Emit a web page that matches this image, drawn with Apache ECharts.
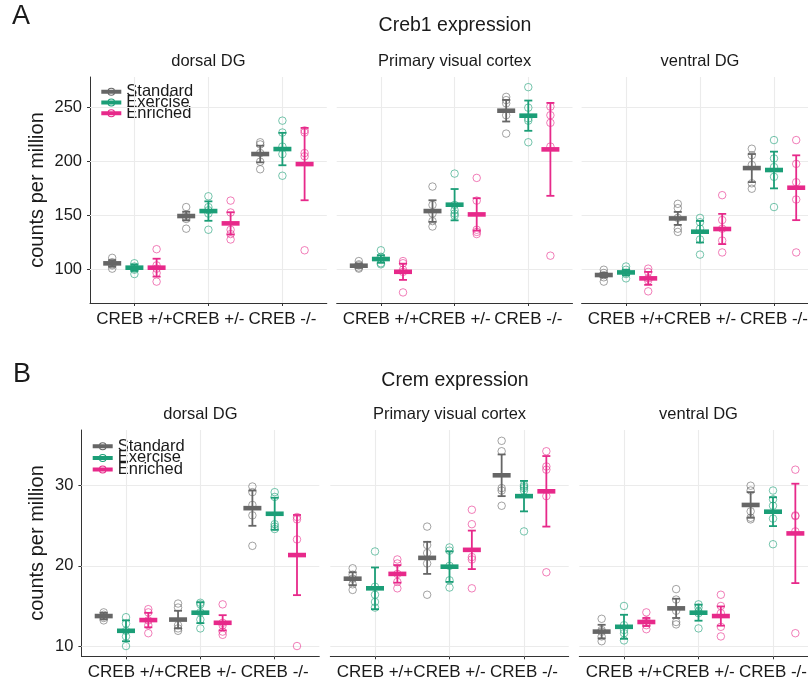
<!DOCTYPE html>
<html>
<head>
<meta charset="utf-8">
<script src="https://cdn.jsdelivr.net/npm/echarts@6/dist/echarts.min.js"></script>
<style>
  html, body { margin: 0; padding: 0; background: #ffffff; }
  #chart { width: 808px; height: 683px; }
</style>
</head>
<body>
<div id="chart"></div>
<script>
// ---- categories and labels ----
const genotypes = ['CREB +/+', 'CREB +/-', 'CREB -/-'];
const groups = ['Standard', 'Exercise', 'Enriched'];
const regions = ['dorsal DG', 'Primary visual cortex', 'ventral DG'];
const creb1Ticks = [100, 150, 200, 250];
const cremTicks = [10, 20, 30];

// ---- Creb1 expression (rows: Standard, Exercise, Enriched; columns: genotypes) ----
const creb1DorsalMean = [[105.9, 149.7, 207.1], [101.9, 154.3, 211.7], [101.9, 142.9, 197.8]];
const creb1DorsalErr  = [[3.0, 4.0, 7.7], [3.0, 9.0, 15.0], [8.3, 10.3, 33.5]];
const creb1DorsalPts  = [
  [[111, 107, 105, 104, 101], [158, 151, 149, 147, 138], [218, 216, 208, 200, 193]],
  [[106, 103, 101, 100, 96], [168, 158, 155, 152, 137], [238, 227, 214, 207, 187]],
  [[119, 104, 101, 97, 89], [164, 153, 137, 133, 128], [229, 227, 208, 205, 118]]
];

const creb1VisualMean = [[103.7, 154.3, 247.2], [109.9, 160.2, 242.6], [98.1, 151.2, 211.4]];
const creb1VisualErr  = [[2.0, 10.0, 10.0], [3.5, 14.5, 14.0], [7.5, 15.0, 43.0]];
const creb1VisualPts  = [
  [[108, 105, 104, 102, 101], [177, 160, 152, 145, 140], [260, 257, 254, 243, 226]],
  [[118, 112, 110, 106, 105], [189, 160, 155, 152, 150], [269, 250, 240, 238, 218]],
  [[108, 106, 100, 98, 79], [185, 164, 137, 135, 133], [251, 243, 236, 214, 113]]
];

const creb1VentralMean = [[95.1, 147.5, 194.1], [97.5, 135.2, 192.3], [92.0, 137.7, 175.9]];
const creb1VentralErr  = [[2.0, 6.0, 13.0], [2.5, 10.0, 17.0], [6.0, 14.0, 30.0]];
const creb1VentralPts  = [
  [[100, 97, 95, 93, 89], [161, 157, 148, 138, 135], [212, 206, 197, 180, 175]],
  [[103, 100, 97, 96, 92], [148, 144, 138, 128, 114], [220, 203, 195, 186, 158]],
  [[101, 98, 92, 90, 80], [169, 146, 138, 127, 116], [220, 198, 181, 165, 116]]
];

// ---- Crem expression ----
const cremDorsalMean = [[13.74, 13.3, 27.2], [11.9, 14.16, 26.5], [13.24, 12.9, 21.35]];
const cremDorsalErr  = [[0.4, 1.1, 2.2], [1.3, 1.3, 2.0], [0.9, 0.95, 5.0]];
const cremDorsalPts  = [
  [[14.2, 13.9, 13.7, 13.5, 13.2], [15.3, 14.8, 12.6, 12.2, 11.9], [29.9, 29.2, 27.6, 26.3, 22.5]],
  [[13.6, 12.8, 11.9, 11.2, 10.0], [15.4, 15.2, 14.2, 13.3, 12.2], [29.2, 28.6, 25.2, 24.9, 24.6]],
  [[14.6, 14.2, 13.2, 12.6, 11.6], [15.2, 12.9, 12.6, 11.8, 11.4], [26.1, 25.8, 23.3, 10.0]]
];

const cremVisualMean = [[18.4, 21.0, 31.3], [17.2, 19.9, 28.7], [19.0, 22.0, 29.3]];
const cremVisualErr  = [[0.8, 2.0, 2.6], [2.6, 1.9, 1.9], [1.1, 2.4, 4.4]];
const cremVisualPts  = [
  [[19.7, 18.9, 18.4, 17.7, 17.0], [24.9, 22.6, 21.6, 20.3, 16.4], [35.6, 34.3, 29.7, 29.4, 27.5]],
  [[21.8, 17.4, 16.4, 15.5, 14.8], [22.3, 21.9, 20.0, 18.2, 17.3], [30.1, 29.9, 29.7, 29.4, 24.3]],
  [[20.8, 20.3, 19.0, 18.0, 17.2], [27.0, 25.2, 21.1, 20.8, 17.2], [34.3, 32.4, 32.0, 28.7, 19.2]]
];

const cremVentralMean = [[11.8, 14.7, 27.6], [12.4, 14.16, 26.76], [13.0, 13.74, 24.05]];
const cremVentralErr  = [[0.85, 1.2, 1.6], [1.5, 1.0, 1.8], [0.5, 1.2, 6.2]];
const cremVentralPts  = [
  [[13.4, 12.0, 11.8, 11.2, 10.6], [17.1, 15.8, 14.4, 13.0, 12.7], [30.0, 29.4, 26.8, 26.0, 25.8]],
  [[15.0, 12.6, 12.0, 11.6, 10.7], [15.2, 14.8, 14.3, 14.1, 12.2], [29.4, 28.3, 27.5, 25.9, 22.7]],
  [[14.2, 13.2, 12.9, 12.6, 12.1], [16.4, 15.0, 14.1, 12.4, 11.2], [32.0, 26.3, 26.2, 24.3, 11.6]]
];

// ---- styling / layout ----
const FONT = 'Liberation Sans, Arial, Helvetica, sans-serif';
const TEXT = '#1a1a1a';
const AXIS = '#333333';
const GRIDLINE = '#ebebeb';
const groupColors = ['#666666', '#1B9E77', '#E7298A'];
const dodge = [-0.3, 0, 0.3];

const panels = [
  { mean: creb1DorsalMean,  err: creb1DorsalErr,  pts: creb1DorsalPts,  ticks: creb1Ticks, ymin: 69.2, ymax: 278.4, left: 90,    top: 77,  width: 236.8, height: 226 },
  { mean: creb1VisualMean,  err: creb1VisualErr,  pts: creb1VisualPts,  ticks: creb1Ticks, ymin: 69.2, ymax: 278.4, left: 336.7, top: 77,  width: 235.8, height: 226 },
  { mean: creb1VentralMean, err: creb1VentralErr, pts: creb1VentralPts, ticks: creb1Ticks, ymin: 69.2, ymax: 278.4, left: 581.6, top: 77,  width: 236.8, height: 226 },
  { mean: cremDorsalMean,   err: cremDorsalErr,   pts: cremDorsalPts,   ticks: cremTicks,  ymin: 8.72, ymax: 36.95, left: 81.4,  top: 430, width: 237.9, height: 226.3 },
  { mean: cremVisualMean,   err: cremVisualErr,   pts: cremVisualPts,   ticks: cremTicks,  ymin: 8.72, ymax: 36.95, left: 330.3, top: 430, width: 238.4, height: 226.3 },
  { mean: cremVentralMean,  err: cremVentralErr,  pts: cremVentralPts,  ticks: cremTicks,  ymin: 8.72, ymax: 36.95, left: 579.3, top: 430, width: 238.4, height: 226.3 }
];

// mean bar + error bar with caps, positioned through the axes
function renderSummary(params, api) {
  const x = api.value(0);
  const pm = api.coord([x, api.value(1)]);
  const pl = api.coord([x, api.value(2)]);
  const ph = api.coord([x, api.value(3)]);
  const color = api.visual('color');
  const cap = 4, half = 9, lw = 1.8;
  return {
    type: 'group',
    children: [
      { type: 'line', shape: { x1: pl[0], y1: pl[1], x2: ph[0], y2: ph[1] }, style: { stroke: color, lineWidth: lw } },
      { type: 'line', shape: { x1: pl[0] - cap, y1: pl[1], x2: pl[0] + cap, y2: pl[1] }, style: { stroke: color, lineWidth: lw } },
      { type: 'line', shape: { x1: ph[0] - cap, y1: ph[1], x2: ph[0] + cap, y2: ph[1] }, style: { stroke: color, lineWidth: lw } },
      { type: 'rect', shape: { x: pm[0] - half, y: pm[1] - 2.3, width: half * 2, height: 4.6 }, style: { fill: color } }
    ]
  };
}

const grids = [], xAxes = [], yAxes = [], series = [];

panels.forEach((p, i) => {
  const isLeft = i % 3 === 0;
  grids.push({ left: p.left, top: p.top, width: p.width, height: p.height, containLabel: false, outerBoundsMode: 'none' });

  // the genotype labels are wider than their spacing, so each sits on its own
  // bottom axis (same scale) to keep all three drawn side by side
  const xMain = xAxes.length;
  [1, 2, 3].forEach((pos, k) => {
    xAxes.push({
      type: 'value', gridIndex: i, min: 0.4, max: 3.6, position: 'bottom', offset: 0,
      axisLine: { show: k === 0, onZero: false, lineStyle: { color: AXIS, width: 1 } },
      axisTick: { show: k === 0, customValues: [1, 2, 3], length: 3, lineStyle: { color: AXIS } },
      axisLabel: {
        customValues: [pos], formatter: v => genotypes[Math.round(v) - 1],
        fontSize: 17, color: TEXT, fontFamily: FONT, margin: 8,
        hideOverlap: false, showMinLabel: true, showMaxLabel: true
      },
      splitLine: { show: false }
    });
  });

  yAxes.push({
    type: 'value', gridIndex: i, min: p.ymin, max: p.ymax,
    axisLine: { show: isLeft, onZero: false, lineStyle: { color: AXIS, width: 1 } },
    axisTick: { show: isLeft, customValues: p.ticks, length: 3, lineStyle: { color: AXIS } },
    axisLabel: { show: isLeft, customValues: p.ticks, fontSize: 16.5, color: TEXT, fontFamily: FONT, margin: 8 },
    splitLine: { show: false }
  });

  // panel grid lines
  series.push({
    type: 'scatter', name: 'gridlines', xAxisIndex: xMain, yAxisIndex: i, z: 1,
    data: [[2, p.ticks[0]]], symbolSize: 0, silent: true,
    markLine: {
      silent: true, symbol: 'none', label: { show: false }, animation: false,
      lineStyle: { color: GRIDLINE, width: 1.1, type: 'solid' },
      emphasis: { disabled: true },
      data: [1, 2, 3].map(v => ({ xAxis: v })).concat(p.ticks.map(v => ({ yAxis: v })))
    }
  });

  groups.forEach((g, gi) => {
    const pts = [];
    p.pts[gi].forEach((vals, c) => vals.forEach(v => pts.push([c + 1 + dodge[gi], v])));
    series.push({
      type: 'scatter', name: g, xAxisIndex: xMain, yAxisIndex: i, z: 10,
      symbol: 'circle', symbolSize: 7.5, data: pts, silent: true,
      itemStyle: { color: 'rgba(255,255,255,0)', borderColor: groupColors[gi], borderWidth: 1, opacity: 0.6 }
    });
    series.push({
      type: 'custom', name: g, xAxisIndex: xMain, yAxisIndex: i, z: 12, silent: true,
      itemStyle: { color: groupColors[gi] },
      renderItem: renderSummary,
      data: p.mean[gi].map((m, c) => [c + 1 + dodge[gi], m, m - p.err[gi][c], m + p.err[gi][c]])
    });
  });
});

// one legend entry per component so the rows can sit tightly stacked
const legendIcon = 'path://M0,2.5L20,2.5L20,6.5L0,6.5Z M14,4.5A4,4,0,1,1,6,4.5A4,4,0,1,1,14,4.5Z M13,4.5A3,3,0,1,0,7,4.5A3,3,0,1,0,13,4.5Z';
const legends = [];
[[101.3, 91.7, 10.8], [92.7, 446.3, 11.6]].forEach(([lx, cy, step]) => {
  groups.forEach((g, gi) => {
    legends.push({
      left: lx, top: cy + gi * step - 8.5, orient: 'vertical', itemWidth: 20, itemHeight: 8,
      selectedMode: false, padding: 0,
      textStyle: { fontSize: 16.5, color: TEXT, fontFamily: FONT },
      data: [{ name: g, icon: legendIcon, itemStyle: { color: groupColors[gi], borderWidth: 0, opacity: 1 } }]
    });
  });
});

function label(text, x, y, size, rotation) {
  return {
    type: 'text', x: x, y: y, rotation: rotation || 0, silent: true,
    style: { text: text, fontSize: size, fontFamily: FONT, fill: TEXT, align: 'center', verticalAlign: 'middle' }
  };
}

const graphics = [
  label('A', 21, 17, 27),
  label('Creb1 expression', 455, 26, 19.5),
  label('B', 22, 375, 27),
  label('Crem expression', 455, 381, 19.5),
  label('counts per million', 37.5, 190, 20, Math.PI / 2),
  label('counts per million', 37.2, 543, 20, Math.PI / 2)
];
panels.forEach((p, i) => {
  graphics.push(label(regions[i % 3], p.left + p.width / 2, p.top - 15.5, 16.5));
});

const chart = echarts.init(document.getElementById('chart'), null, { renderer: 'canvas' });
chart.setOption({
  backgroundColor: '#ffffff',
  animation: false,
  textStyle: { fontFamily: FONT },
  grid: grids,
  xAxis: xAxes,
  yAxis: yAxes,
  legend: legends,
  graphic: graphics,
  series: series
});
</script>
</body>
</html>
